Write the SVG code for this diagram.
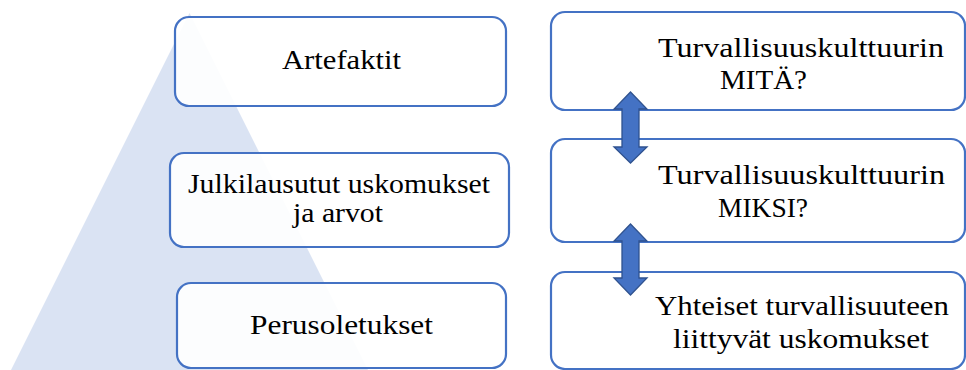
<svg xmlns="http://www.w3.org/2000/svg" width="966" height="370" viewBox="0 0 966 370">
  <style>
    .box { fill: #ffffff; fill-opacity: 0.9; stroke: #4472C4; stroke-width: 2.2; }
    .lbl { font-family: 'Liberation Serif', 'Times New Roman', serif; font-size: 28px; fill: #000000; }
    .dbl { fill: #4472C4; stroke: #2F528F; stroke-width: 1.3; stroke-linejoin: miter; }
  </style>

  <!-- background pyramid -->
  <polygon id="pyramid" points="189.5,13 368,370 11,370" fill="#DAE3F3"/>

  <!-- left column: culture levels -->
  <g id="artefaktit">
    <rect class="box" x="175" y="17" width="331" height="89" rx="14"/>
    <text class="lbl" x="282" y="69" textLength="119" lengthAdjust="spacingAndGlyphs">Artefaktit</text>
  </g>
  <g id="arvot">
    <rect class="box" x="170" y="153" width="339" height="94" rx="14"/>
    <text class="lbl" x="188" y="193" textLength="302" lengthAdjust="spacingAndGlyphs">Julkilausutut uskomukset</text>
    <text class="lbl" x="293" y="222" textLength="90" lengthAdjust="spacingAndGlyphs">ja arvot</text>
  </g>
  <g id="perusoletukset">
    <rect class="box" x="177" y="283" width="329" height="85" rx="14"/>
    <text class="lbl" x="250" y="334" textLength="183" lengthAdjust="spacingAndGlyphs">Perusoletukset</text>
  </g>

  <!-- right column: safety culture -->
  <g id="mita">
    <rect class="box" x="551" y="12" width="414" height="98" rx="14"/>
    <text class="lbl" x="658" y="57" textLength="286" lengthAdjust="spacingAndGlyphs">Turvallisuuskulttuurin</text>
    <text class="lbl" x="720" y="89" textLength="87" lengthAdjust="spacingAndGlyphs">MITÄ?</text>
  </g>
  <g id="miksi">
    <rect class="box" x="551" y="139" width="414" height="103" rx="14"/>
    <text class="lbl" x="658" y="184" textLength="287" lengthAdjust="spacingAndGlyphs">Turvallisuuskulttuurin</text>
    <text class="lbl" x="718" y="217" textLength="90" lengthAdjust="spacingAndGlyphs">MIKSI?</text>
  </g>
  <g id="uskomukset">
    <rect class="box" x="551" y="272" width="414" height="97" rx="14"/>
    <text class="lbl" x="655" y="315" textLength="294" lengthAdjust="spacingAndGlyphs">Yhteiset turvallisuuteen</text>
    <text class="lbl" x="673" y="348" textLength="256" lengthAdjust="spacingAndGlyphs">liittyvät uskomukset</text>
  </g>

  <!-- connectors: double-headed block arrows -->
  <g id="connectors">
    <path class="dbl" d="M630.5,92 L647,109 L639,109 L639,147 L647,147 L630.5,163 L614,147 L622,147 L622,109 L614,109 Z"/>
    <path class="dbl" d="M630.5,224 L647,241 L639,241 L639,278 L647,278 L630.5,295 L614,278 L622,278 L622,241 L614,241 Z"/>
  </g>
</svg>
